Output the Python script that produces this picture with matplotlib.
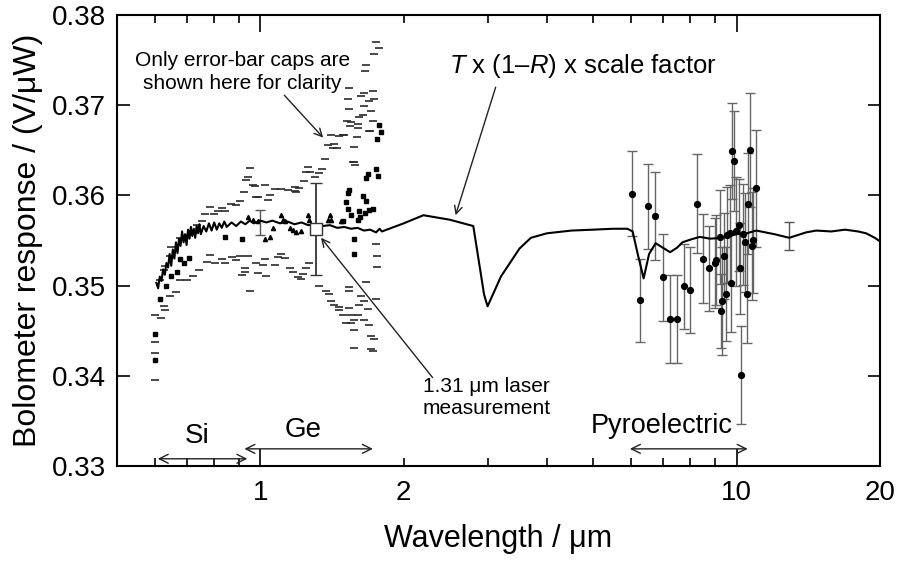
import matplotlib
matplotlib.use('Agg')
import matplotlib.pyplot as plt
from matplotlib.ticker import FixedLocator, FixedFormatter

plt.rcParams['font.family'] = ['Liberation Sans', 'DejaVu Sans']
plt.rcParams['mathtext.fontset'] = 'custom'
plt.rcParams['mathtext.rm'] = 'Liberation Sans'
plt.rcParams['mathtext.it'] = 'Liberation Sans:italic'

# T x (1-R) x scale factor curve
curve_wl = [0.605, 0.610, 0.615, 0.620, 0.625, 0.630, 0.635, 0.640, 0.645, 0.650,
            0.655, 0.660, 0.665, 0.670, 0.675, 0.680, 0.685, 0.690, 0.695, 0.700,
            0.705, 0.710, 0.715, 0.720, 0.725, 0.730, 0.735, 0.740, 0.745, 0.750,
            0.760, 0.770, 0.780, 0.790, 0.800, 0.810, 0.820, 0.830, 0.840, 0.850,
            0.870, 0.890, 0.910, 0.930, 0.950, 0.970, 1.00, 1.03, 1.06, 1.10,
            1.14, 1.18, 1.22, 1.26, 1.30, 1.35, 1.40, 1.45, 1.50, 1.55,
            1.60, 1.65, 1.70, 1.75, 1.78, 1.80, 2.0, 2.2, 2.5, 2.8,
            2.95, 3.0, 3.2, 3.5, 3.7, 4.0, 4.5, 5.0, 5.5, 5.9,
            6.05, 6.2, 6.38, 6.55, 6.76, 7.0, 7.25, 7.5, 7.7, 8.0,
            8.37, 8.8, 9.35, 10.0, 10.5, 11.0, 12.0, 12.9, 14.0, 14.7,
            15.8, 16.9, 18.0, 18.7, 19.5, 20.0]
curve_val = [0.3503, 0.3497, 0.3510, 0.3505, 0.3518, 0.3512, 0.3525, 0.3520, 0.3535, 0.3522,
             0.3540, 0.3530, 0.3548, 0.3536, 0.3552, 0.3544, 0.3560, 0.3548, 0.3557, 0.3545,
             0.3562, 0.3552, 0.3565, 0.3555, 0.3563, 0.3553, 0.3566, 0.3558, 0.3568, 0.3557,
             0.3566, 0.3560, 0.3569, 0.3561, 0.3570, 0.3562, 0.3569, 0.3564, 0.3571, 0.3565,
             0.3570, 0.3566, 0.3571, 0.3568, 0.3572, 0.3569, 0.3572, 0.3570, 0.3572, 0.3569,
             0.3571, 0.3568, 0.3570, 0.3567, 0.3568, 0.3566, 0.3567, 0.3564, 0.3565, 0.3563,
             0.3564, 0.3561, 0.3562, 0.3559, 0.3563, 0.3560, 0.3569, 0.3578, 0.3573, 0.3566,
             0.3490, 0.3477, 0.3510, 0.3541, 0.3553, 0.3558, 0.3561, 0.3562, 0.3563, 0.3563,
             0.3560, 0.3535, 0.3508, 0.3535, 0.3547, 0.3542, 0.3537, 0.3542, 0.3548, 0.3551,
             0.3554, 0.3552, 0.3553, 0.3557, 0.3558, 0.3561, 0.3557, 0.3553, 0.3559, 0.3561,
             0.3560, 0.3562, 0.3560, 0.3558, 0.3553, 0.3549]

# Si / Ge detector measurements: only the error-bar caps are drawn
upper_cap_wl = [0.950, 0.942, 0.935, 0.973, 0.925, 0.989, 0.905, 0.866, 0.891, 0.829,
                0.783, 0.842, 0.813, 0.800, 0.767, 0.753, 0.738, 0.723, 0.706, 0.678,
                0.649, 0.646, 0.631, 0.629, 0.616, 0.601, 0.618, 0.601,
                0.965, 1.021, 1.046, 1.106, 1.143, 1.190, 1.071, 1.180, 1.208, 1.180,
                1.038, 0.981, 1.234, 1.300, 1.331, 1.274, 1.248, 1.346, 1.258, 1.368,
                1.571, 1.580, 1.385, 1.419, 1.449, 1.571, 1.408, 1.489, 1.596, 1.550,
                1.600, 1.544, 1.605, 1.694, 1.748, 1.776, 1.734, 1.666, 1.658, 1.538,
                1.648, 1.722, 1.527, 1.627, 1.730, 1.694, 1.538, 1.652, 1.707, 1.640,
                1.614, 1.521, 1.722, 1.702, 1.500, 1.466, 1.430, 1.563]
upper_cap_val = [0.3630, 0.3620, 0.3617, 0.3610, 0.3604, 0.3598, 0.3594, 0.3591, 0.3589, 0.3586,
                 0.3587, 0.3583, 0.3583, 0.3579, 0.3579, 0.3572, 0.3567, 0.3561, 0.3556, 0.3553,
                 0.3543, 0.3533, 0.3522, 0.3517, 0.3506, 0.3467, 0.3464, 0.3438,
                 0.3611, 0.3611, 0.3600, 0.3607, 0.3606, 0.3604, 0.3607, 0.3609, 0.3608, 0.3605,
                 0.3595, 0.3598, 0.3616, 0.3620, 0.3625, 0.3626, 0.3626, 0.3629, 0.3631, 0.3640,
                 0.3637, 0.3634, 0.3656, 0.3653, 0.3652, 0.3654, 0.3667, 0.3667, 0.3665, 0.3681,
                 0.3679, 0.3677, 0.3675, 0.3671, 0.3770, 0.3763, 0.3757, 0.3744, 0.3738, 0.3719,
                 0.3714, 0.3716, 0.3707, 0.3710, 0.3707, 0.3705, 0.3696, 0.3699, 0.3693, 0.3689,
                 0.3687, 0.3683, 0.3683, 0.3671, 0.3667, 0.3666, 0.3657, 0.3637]
lower_cap_wl = [0.678, 0.700, 0.664, 0.646, 0.723, 0.744, 0.771, 0.783, 0.802, 0.829,
                0.842, 0.870, 0.905, 0.891, 0.942, 0.927, 0.930, 0.913, 0.950, 0.989,
                0.629, 0.631, 0.601, 0.601,
                1.106, 1.089, 1.021, 1.124, 0.981, 1.013, 1.071, 1.152, 1.268, 1.248,
                1.170, 1.029, 1.229, 1.199, 1.218, 1.331, 1.374, 1.396, 1.538, 1.538,
                1.408, 1.430, 1.466, 1.466, 1.538, 1.627, 1.652, 1.614, 1.680, 1.489,
                1.550, 1.600, 1.575, 1.513, 1.652, 1.550, 1.694, 1.707, 1.734, 1.575,
                1.575, 1.707, 1.722, 1.748, 1.762, 1.762, 1.666, 1.748]
lower_cap_val = [0.3506, 0.3506, 0.3493, 0.3489, 0.3511, 0.3517, 0.3526, 0.3534, 0.3525, 0.3529,
                 0.3525, 0.3532, 0.3533, 0.3528, 0.3533, 0.3520, 0.3515, 0.3512, 0.3494, 0.3514,
                 0.3477, 0.3473, 0.3425, 0.3395,
                 0.3535, 0.3532, 0.3530, 0.3531, 0.3525, 0.3523, 0.3523, 0.3520, 0.3525, 0.3519,
                 0.3515, 0.3511, 0.3513, 0.3510, 0.3507, 0.3500, 0.3494, 0.3491, 0.3498, 0.3494,
                 0.3483, 0.3479, 0.3476, 0.3473, 0.3475, 0.3489, 0.3483, 0.3478, 0.3474, 0.3467,
                 0.3467, 0.3467, 0.3462, 0.3459, 0.3462, 0.3459, 0.3456, 0.3444, 0.3441, 0.3451,
                 0.3431, 0.3430, 0.3428, 0.3546, 0.3533, 0.3521, 0.3504, 0.3485]
dot_wl = [0.616, 0.633, 0.649, 0.667, 0.678, 0.692, 0.708, 0.842, 0.913, 0.601, 0.601,
          1.776, 1.791, 1.762, 1.748, 1.680, 1.666, 1.768, 1.538, 1.527, 1.640,
          1.666, 1.513, 1.530, 1.614, 1.660, 1.722, 1.694, 1.550, 1.600, 1.489,
          1.620, 1.571, 1.575]
dot_val = [0.3485, 0.3500, 0.3511, 0.3515, 0.3529, 0.3525, 0.3531, 0.3554, 0.3552, 0.3446, 0.3417,
           0.3678, 0.3670, 0.3663, 0.3629, 0.3624, 0.3619, 0.3622, 0.3606, 0.3603, 0.3599,
           0.3594, 0.3593, 0.3585, 0.3583, 0.3581, 0.3585, 0.3584, 0.3578, 0.3573, 0.3572,
           0.3576, 0.3552, 0.3535]
tri_wl = [1.106, 1.117, 1.124, 1.258, 1.268, 1.403, 1.389, 1.408, 1.477, 0.965,
          1.170, 1.152, 1.190, 1.218, 1.063, 1.046, 1.021, 0.942, 0.989]
tri_val = [0.3578, 0.3573, 0.3572, 0.3578, 0.3573, 0.3578, 0.3573, 0.3573, 0.3572, 0.3573,
           0.3562, 0.3564, 0.3559, 0.3561, 0.3564, 0.3554, 0.3552, 0.3576, 0.3572]

# error bars drawn in full
bar_wl = [1.0, 12.9]
bar_val = [0.3570, 0.3555]
bar_err = [0.00135, 0.00155]

# 1.31 um laser measurement
laser_wl = [1.31]
laser_val = [0.3563]
laser_err = [0.0051]

# pyroelectric detector measurements
pyro_wl = [6.02, 6.27, 6.51, 6.75, 6.99, 7.24, 7.50, 7.76, 8.00, 8.25,
           8.50, 8.75, 8.99, 9.07, 9.21, 9.26, 9.33, 9.41, 9.48, 9.56,
           9.67, 9.75, 9.78, 9.87, 9.99, 10.10, 10.18, 10.23, 10.31, 10.39,
           10.51, 10.59, 10.68, 10.75, 10.82, 11.0]
pyro_val = [0.3602, 0.3484, 0.3588, 0.3577, 0.3509, 0.3463, 0.3463, 0.3499, 0.3495, 0.3591,
            0.3530, 0.3519, 0.3525, 0.3528, 0.3554, 0.3472, 0.3483, 0.3533, 0.3491, 0.3556,
            0.3558, 0.3503, 0.3649, 0.3638, 0.3560, 0.3567, 0.3519, 0.3401, 0.3557, 0.3548,
            0.3491, 0.3591, 0.3650, 0.3544, 0.3550, 0.3608]
pyro_err = [0.0047, 0.0046, 0.0047, 0.0049, 0.0048, 0.0049, 0.0049, 0.0047, 0.0048, 0.0055,
            0.0049, 0.0047, 0.0050, 0.0050, 0.0052, 0.0041, 0.0060, 0.0048, 0.0052, 0.0053,
            0.0054, 0.0054, 0.0053, 0.0055, 0.0060, 0.0051, 0.0050, 0.0054, 0.0056, 0.0055,
            0.0055, 0.0056, 0.0063, 0.0060, 0.0058, 0.0065]

fig = plt.figure(figsize=(8.97, 5.63), dpi=100)
ax = fig.add_axes([0.1304, 0.1723, 0.8506, 0.8011])

ax.plot(curve_wl, curve_val, color='black', lw=1.5, zorder=4)

ax.plot(upper_cap_wl, upper_cap_val, ls='none', marker='_', ms=6, mew=1.2, color='#2a2a2a')
ax.plot(lower_cap_wl, lower_cap_val, ls='none', marker='_', ms=6, mew=1.2, color='#2a2a2a')
ax.plot(dot_wl, dot_val, ls='none', marker='s', ms=2.3, color='black')
ax.plot(tri_wl, tri_val, ls='none', marker='^', ms=3.0, color='black')

ax.errorbar(bar_wl, bar_val, yerr=bar_err, fmt='none', ecolor='#555555',
            elinewidth=1.0, capsize=3.5, capthick=1.0)
ax.errorbar(pyro_wl, pyro_val, yerr=pyro_err, fmt='o', ms=4.2, color='black',
            ecolor='#666666', elinewidth=1.0, capsize=3.5, capthick=1.0, zorder=3)
ax.errorbar(laser_wl, laser_val, yerr=laser_err, fmt='s', ms=9, mfc='white',
            mec='#333333', mew=1.0, ecolor='#333333', elinewidth=1.3,
            capsize=4.5, capthick=1.3, zorder=5)

ax.set_xscale('log')
ax.set_xlim(0.5, 20)
ax.set_ylim(0.33, 0.38)

ax.xaxis.set_major_locator(FixedLocator([1, 10]))
ax.xaxis.set_major_formatter(FixedFormatter(['1', '10']))
ax.xaxis.set_minor_locator(FixedLocator([0.6, 0.7, 0.8, 0.9, 2, 3, 4, 5, 6, 7, 8, 9, 20]))
ax.xaxis.set_minor_formatter(FixedFormatter(['', '', '', '', '2', '', '', '', '', '', '', '', '20']))
ax.set_yticks([0.33, 0.34, 0.35, 0.36, 0.37, 0.38])
ax.set_yticklabels(['0.33', '0.34', '0.35', '0.36', '0.37', '0.38'])

ax.tick_params(which='both', direction='in', top=True, right=True, labelsize=20, width=1.2)
ax.tick_params(axis='x', which='major', length=12, pad=10)
ax.tick_params(axis='x', which='minor', length=6, pad=10)
ax.tick_params(axis='y', which='major', length=9, pad=8)
for s in ax.spines.values():
    s.set_linewidth(1.5)

ax.set_xlabel('Wavelength / μm', fontsize=22, labelpad=13)
ax.set_ylabel('Bolometer response / (V/μW)', fontsize=23, labelpad=6)

arrow = dict(arrowstyle='->', color='#222222', lw=1.0, shrinkA=0, shrinkB=0,
             mutation_scale=14)
ax.text(0.917, 0.3737, 'Only error-bar caps are\nshown here for clarity', fontsize=15,
        ha='center', va='center', multialignment='center', linespacing=1.25)
ax.annotate('', xy=(1.355, 0.3664), xytext=(1.123, 0.3711), arrowprops=arrow)
ax.text(4.76, 0.3743, '$T$ x (1–$R$) x scale factor', fontsize=18.5,
        ha='center', va='center')
ax.annotate('', xy=(2.57, 0.3578), xytext=(3.12, 0.3720), arrowprops=arrow)
ax.text(2.98, 0.3376, '1.31 μm laser\nmeasurement', fontsize=15,
        ha='center', va='center', multialignment='center', linespacing=1.25)
ax.annotate('', xy=(1.341, 0.3553), xytext=(2.30, 0.3398), arrowprops=arrow)

dbl = dict(arrowstyle='<->', color='#222222', lw=1.0, shrinkA=0, shrinkB=0,
           mutation_scale=16)
ax.annotate('', xy=(0.609, 0.3308), xytext=(0.939, 0.3308), arrowprops=dbl)
ax.annotate('', xy=(0.926, 0.3319), xytext=(1.723, 0.3319), arrowprops=dbl)
ax.annotate('', xy=(5.97, 0.3319), xytext=(10.55, 0.3319), arrowprops=dbl)
ax.text(0.735, 0.3333, 'Si', fontsize=20, ha='center', va='center')
ax.text(1.23, 0.3340, 'Ge', fontsize=20, ha='center', va='center')
ax.text(6.96, 0.3344, 'Pyroelectric', fontsize=19.5, ha='center', va='center')

fig.savefig('out.png', dpi=100)
